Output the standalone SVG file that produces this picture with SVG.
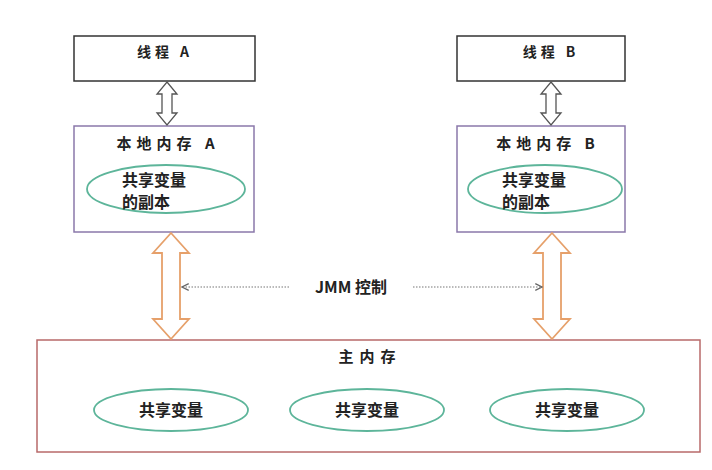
<svg xmlns="http://www.w3.org/2000/svg" width="712" height="470" viewBox="0 0 712 470">
  <style>
    .txt { font-family: "Noto Sans CJK SC", "Liberation Sans", sans-serif; fill: #222; }
    .lbl { font-weight: 600; }
    .thread { fill: #fff; stroke: #333; stroke-width: 1.5; }
    .local { fill: #fff; stroke: #8a78aa; stroke-width: 1.5; }
    .main { fill: #fff; stroke: #b86a6a; stroke-width: 1.5; }
    .var { fill: #fff; stroke: #5db59a; stroke-width: 1.8; }
    .sync { fill: #fff; stroke: #555; stroke-width: 1.3; }
    .bus { fill: #fff; stroke: #e6a06a; stroke-width: 1.8; }
    .ctrl { stroke: #777; stroke-width: 1.2; stroke-dasharray: 1.5 1.5; fill: none; }
  </style>
  <defs>
    <marker id="tip" viewBox="0 0 10 10" refX="9" refY="5" markerWidth="7" markerHeight="7" orient="auto-start-reverse">
      <path d="M1,1 L9,5 L1,9" fill="none" stroke="#666" stroke-width="1.5"/>
    </marker>
  </defs>
  <rect width="712" height="470" fill="#fff"/>

  <g id="thread-a">
    <rect class="thread" x="74" y="36" width="181" height="45"/>
    <text class="txt lbl" x="165" y="57" font-size="14" text-anchor="middle" letter-spacing="4">线程 A</text>
  </g>
  <g id="thread-b">
    <rect class="thread" x="457" y="36" width="168" height="45"/>
    <text class="txt lbl" x="551" y="57" font-size="14" text-anchor="middle" letter-spacing="4">线程 B</text>
  </g>

  <g id="local-a">
    <rect class="local" x="74" y="126" width="180" height="106"/>
    <text class="txt" x="168" y="149" font-size="15" text-anchor="middle" letter-spacing="5" font-weight="bold">本地内存 A</text>
    <ellipse class="var" cx="166" cy="189" rx="79" ry="24"/>
    <text class="txt lbl" x="122" y="186" font-size="16">共享变量</text>
    <text class="txt lbl" x="122" y="208" font-size="16">的副本</text>
  </g>
  <g id="local-b">
    <rect class="local" x="457" y="126" width="168" height="106"/>
    <text class="txt" x="548" y="149" font-size="15" text-anchor="middle" letter-spacing="5" font-weight="bold">本地内存 B</text>
    <ellipse class="var" cx="545" cy="189" rx="77" ry="24"/>
    <text class="txt lbl" x="502" y="186" font-size="16">共享变量</text>
    <text class="txt lbl" x="502" y="208" font-size="16">的副本</text>
  </g>

  <g id="main-memory">
    <rect class="main" x="37" y="340" width="663" height="112"/>
    <text class="txt" x="370" y="362" font-size="15" text-anchor="middle" letter-spacing="6" font-weight="bold">主内存</text>
    <ellipse class="var" cx="171" cy="410" rx="77" ry="21"/>
    <text class="txt lbl" x="171" y="416" font-size="16" text-anchor="middle">共享变量</text>
    <ellipse class="var" cx="367" cy="410" rx="77" ry="21"/>
    <text class="txt lbl" x="367" y="416" font-size="16" text-anchor="middle">共享变量</text>
    <ellipse class="var" cx="567" cy="410" rx="77" ry="21"/>
    <text class="txt lbl" x="567" y="416" font-size="16" text-anchor="middle">共享变量</text>
  </g>

  <g id="connectors">
    <!-- thread <-> local memory -->
    <path class="sync" d="M167,82 L177,94 L172,94 L172,113 L177,113 L167,125 L157,113 L162,113 L162,94 L157,94 Z"/>
    <path class="sync" d="M551,82 L561,94 L556,94 L556,113 L561,113 L551,125 L541,113 L546,113 L546,94 L541,94 Z"/>
    <!-- local memory <-> main memory -->
    <path class="bus" d="M171,233 L189,253 L180,253 L180,319 L189,319 L171,339 L153,319 L162,319 L162,253 L153,253 Z"/>
    <path class="bus" d="M552,233 L570,253 L561,253 L561,319 L570,319 L552,339 L534,319 L543,319 L543,253 L534,253 Z"/>
    <!-- JMM control -->
    <line class="ctrl" x1="289" y1="287" x2="182" y2="287" marker-end="url(#tip)"/>
    <line class="ctrl" x1="413" y1="287" x2="542" y2="287" marker-end="url(#tip)"/>
    <text class="txt lbl" x="351" y="293" font-size="16" text-anchor="middle">JMM 控制</text>
  </g>
</svg>
